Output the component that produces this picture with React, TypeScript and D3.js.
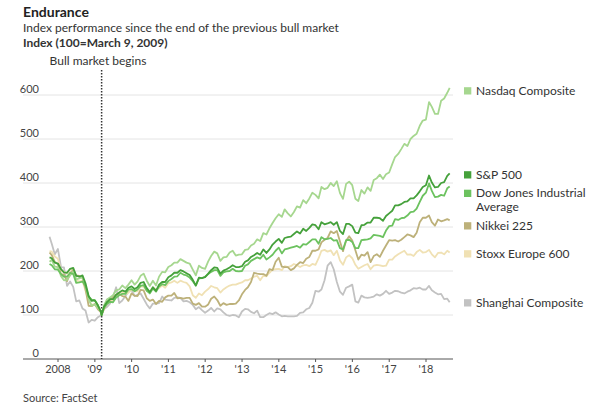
import React from "react";
import * as d3 from "d3";

// ---- Data (index, 100 = March 9, 2009) ----
// Points: Oct 9 2007, month-ends Oct 2007..Feb 2009, Mar 9 2009, month-ends Mar 2009..Jul 2018, late Aug 2018
const sp500 = [
  231, 229, 219, 217,
  204, 197, 196, 205, 207, 189, 187, 190, 172, 143, 132, 133,
  122, 109, 100,
  118, 129, 136, 136, 146, 151, 156, 153, 162, 165,
  159, 163, 173, 175, 161, 152, 163, 155, 169, 175, 175, 186,
  190, 196, 196, 202, 199, 195, 191, 180, 167, 185, 184, 186,
  194, 202, 208, 207, 194, 201, 204, 208, 213, 209, 209, 211,
  221, 224, 232, 236, 241, 237, 249, 241, 249, 260, 267, 273,
  264, 275, 277, 278, 284, 290, 285, 296, 291, 298, 306, 304,
  295, 311, 306, 308, 311, 305, 311, 291, 284, 307, 307, 302,
  287, 286, 304, 305, 310, 310, 321, 321, 320, 314, 325, 331,
  337, 349, 349, 352, 357, 358, 365, 365, 372, 381, 391, 395,
  417, 401, 390, 391, 400, 402, 416, 422,
];
const dow = [
  216, 213, 204, 203,
  193, 187, 187, 196, 193, 173, 174, 176, 166, 142, 135, 134,
  122, 108, 100,
  116, 125, 130, 129, 140, 145, 148, 148, 158, 159,
  154, 158, 166, 168, 155, 149, 160, 153, 165, 170, 168, 177,
  182, 187, 188, 196, 192, 190, 185, 177, 167, 183, 184, 187,
  193, 198, 202, 202, 189, 197, 199, 200, 205, 200, 199, 200,
  212, 215, 223, 227, 231, 228, 237, 226, 231, 237, 246, 253,
  240, 249, 251, 253, 255, 257, 253, 261, 260, 266, 272, 272,
  262, 277, 272, 273, 275, 269, 270, 252, 249, 270, 271, 266,
  252, 252, 270, 271, 272, 274, 282, 281, 280, 277, 292, 302,
  303, 318, 316, 320, 321, 326, 334, 335, 342, 357, 371, 378,
  399, 382, 368, 369, 373, 371, 388, 392,
];
const nasdaq = [
  221, 225, 210, 209,
  188, 179, 180, 190, 199, 181, 183, 187, 165, 136, 121, 124,
  116, 109, 100,
  121, 135, 140, 145, 156, 158, 167, 161, 169, 179,
  169, 176, 189, 194, 178, 166, 178, 167, 187, 198, 197, 209,
  213, 219, 219, 227, 223, 219, 217, 203, 190, 212, 207, 205,
  222, 234, 244, 240, 223, 231, 232, 242, 246, 235, 237, 238,
  248, 249, 258, 262, 272, 268, 286, 283, 297, 309, 320, 329,
  323, 340, 331, 324, 334, 347, 344, 361, 354, 365, 378, 373,
  365, 391, 386, 389, 400, 393, 404, 377, 364, 398, 403, 395,
  364, 359, 384, 376, 390, 382, 407, 411, 419, 409, 420, 424,
  443, 459, 466, 477, 489, 484, 500, 507, 512, 530, 542, 544,
  584, 573, 557, 557, 587, 592, 605, 616,
];
const nikkei = [
  242, 236, 221, 216,
  192, 192, 177, 195, 202, 190, 189, 184, 159, 121, 120, 125,
  113, 107, 100,
  114, 125, 134, 141, 146, 148, 143, 142, 132, 149,
  144, 143, 157, 156, 138, 132, 135, 125, 132, 130, 140, 144,
  144, 150, 138, 139, 137, 139, 139, 126, 123, 127, 119, 119,
  124, 137, 142, 134, 121, 127, 123, 125, 125, 126, 133, 147,
  157, 163, 175, 196, 194, 193, 193, 189, 204, 202, 221, 230,
  210, 209, 209, 202, 206, 214, 220, 218, 228, 232, 246, 246,
  249, 265, 271, 275, 290, 286, 291, 267, 245, 269, 279, 269,
  247, 226, 237, 235, 243, 220, 234, 238, 232, 246, 258, 270,
  269, 270, 267, 271, 277, 283, 281, 277, 287, 311, 321, 321,
  326, 311, 303, 317, 313, 315, 318, 315,
];
const stoxx = [
  245, 244, 233, 228,
  201, 198, 194, 204, 203, 179, 176, 178, 155, 133, 124, 123,
  117, 106, 100,
  112, 129, 134, 133, 146, 151, 153, 148, 151, 158,
  154, 154, 165, 164, 155, 153, 163, 158, 161, 167, 162, 172,
  174, 178, 173, 178, 175, 173, 165, 145, 139, 149, 145, 153,
  159, 166, 163, 161, 151, 158, 163, 167, 169, 169, 172, 174,
  179, 179, 183, 187, 189, 179, 189, 188, 196, 203, 204, 205,
  202, 211, 209, 211, 216, 213, 209, 213, 214, 211, 216, 214,
  229, 246, 248, 244, 247, 236, 246, 224, 214, 231, 236, 229,
  214, 205, 209, 213, 216, 204, 212, 214, 213, 211, 212, 226,
  226, 233, 238, 242, 246, 237, 238, 234, 243, 248, 242, 243,
  248, 238, 231, 241, 242, 238, 246, 242,
];
const shanghai = [
  278, 262, 238, 250,
  209, 208, 166, 176, 164, 131, 133, 115, 110, 83, 89, 87,
  95, 99, 100,
  113, 118, 126, 141, 163, 127, 133, 143, 153, 157,
  143, 146, 149, 137, 124, 115, 126, 126, 127, 142, 135, 134,
  133, 139, 140, 139, 131, 132, 129, 123, 113, 118, 111, 105,
  110, 116, 108, 115, 113, 106, 100, 98, 100, 99, 95, 108,
  114, 113, 107, 104, 110, 95, 95, 100, 104, 102, 106, 101,
  97, 98, 97, 97, 97, 98, 105, 106, 113, 116, 128, 155,
  153, 158, 179, 212, 220, 204, 175, 153, 146, 162, 165, 169,
  131, 128, 144, 140, 139, 140, 142, 147, 144, 148, 155, 148,
  151, 155, 154, 151, 149, 153, 156, 161, 160, 162, 158, 158,
  166, 156, 151, 147, 148, 136, 137, 129,
];

const yTicks = [0, 100, 200, 300, 400, 500, 600];
const xTickYears = [2008, 2009, 2010, 2011, 2012, 2013, 2014, 2015, 2016, 2017, 2018];
const xTickLabels = ["2008", "'09", "'10", "'11", "'12", "'13", "'14", "'15", "'16", "'17", "'18"];

// time points
const monthEnd = (m: Date) => new Date(m.getFullYear(), m.getMonth() + 1, 0);
const dates: Date[] = [
  new Date(2007, 9, 9),
  ...d3.timeMonth.range(new Date(2007, 9, 1), new Date(2009, 2, 1)).map(monthEnd),
  new Date(2009, 2, 9),
  ...d3.timeMonth.range(new Date(2009, 2, 1), new Date(2018, 7, 1)).map(monthEnd),
  new Date(2018, 7, 24),
];
const bullStart = new Date(2009, 2, 9);

const series = [
  { name: "Shanghai Composite", values: shanghai, color: "#c2c2c2", legendY: [306.5] },
  { name: "Stoxx Europe 600", values: stoxx, color: "#f0e1b4", legendY: [257.5] },
  { name: "Nikkei 225", values: nikkei, color: "#bdb17a", legendY: [229.5] },
  { name: "Nasdaq Composite", values: nasdaq, color: "#a6d78f", legendY: [94.5] },
  { name: "Dow Jones Industrial|Average", values: dow, color: "#6cc25f", legendY: [197, 211] },
  { name: "S&P 500", values: sp500, color: "#45a13b", legendY: [178.5] },
];

const FONT = "Lato, 'Noto Sans', sans-serif";

export default function App() {
  const x = d3.scaleTime().domain([new Date(2008, 0, 1), new Date(2018, 0, 1)]).range([58, 426]);
  const y = d3.scaleLinear().domain([0, 600]).range([359, 95]);
  const line = d3
    .line<number>()
    .x((_, i) => x(dates[i]))
    .y((v) => y(v));

  return (
    <svg
      width={600}
      height={414}
      style={{ position: "absolute", left: 0, top: 0, background: "#fff" }}
      fontFamily={FONT}
    >
      <rect width={600} height={414} fill="#fff" />
      {/* titles */}
      <text x={23} y={17} fontSize={14} fontWeight={700} fill="#222">Endurance</text>
      <text x={23} y={32} fontSize={12} fill="#333">Index performance since the end of the previous bull market</text>
      <text x={23} y={47} fontSize={12} fontWeight={700} fill="#333">Index (100=March 9, 2009)</text>

      {/* grid */}
      {yTicks.map((t) => (
        <g key={t}>
          <line
            x1={23}
            x2={453}
            y1={y(t)}
            y2={y(t)}
            stroke={t === 0 ? "#555" : "#e4e4e4"}
            strokeWidth={1}
          />
          <text x={39} y={y(t) - 2} fontSize={11} textAnchor="end" fill="#444">{t}</text>
        </g>
      ))}

      {/* x axis ticks */}
      {xTickYears.map((yr, i) => {
        const xx = x(new Date(yr, 0, 1));
        return (
          <g key={yr}>
            <line x1={xx} x2={xx} y1={359} y2={362} stroke="#555" />
            <text x={xx} y={373} fontSize={11} textAnchor="middle" fill="#444">{xTickLabels[i]}</text>
          </g>
        );
      })}

      {/* bull market line */}
      <line
        x1={x(bullStart)}
        x2={x(bullStart)}
        y1={70}
        y2={359}
        stroke="#333"
        strokeWidth={1.5}
        strokeDasharray="1.4 1.6"
      />
      <text x={98} y={65} fontSize={12} textAnchor="middle" fill="#333">Bull market begins</text>

      {/* lines */}
      {series.map((s) => (
        <path
          key={s.name}
          d={line(s.values) || ""}
          fill="none"
          stroke={s.color}
          strokeWidth={1.8}
          strokeLinejoin="round"
        />
      ))}

      {/* legend */}
      {series.map((s) => {
        const parts = s.name.split("|");
        return (
          <g key={"lg" + s.name}>
            <rect x={464} y={s.legendY[0] - 7.3} width={7.3} height={7.3} fill={s.color} />
            {parts.map((p, j) => (
              <text key={j} x={476} y={s.legendY[j]} fontSize={12} fill="#333">{p}</text>
            ))}
          </g>
        );
      })}

      <text x={23} y={402} fontSize={11} fill="#444">Source: FactSet</text>
    </svg>
  );
}
